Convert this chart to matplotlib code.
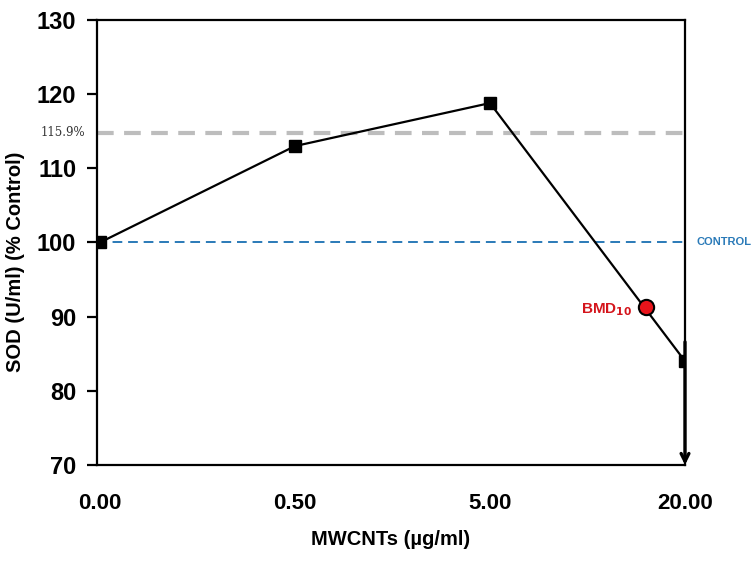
import matplotlib
matplotlib.use("Agg")
import matplotlib.pyplot as plt

# ── Data ──────────────────────────────────────────────────────────────────────
doses      = ["0.00", "0.50", "5.00", "20.00"]      # MWCNTs (µg/ml), categorical
sod_pct    = [100.0, 113.0, 118.8, 84.0]            # SOD (% control)
bmd_pos    = 2.80                                   # BMD10 position on category axis
bmd_value  = 91.3
upper_ref  = 114.8                                  # dashed grey line (labelled 115.9%)
upper_text = "115.9%"
control    = 100.0
y_ticks    = [70, 80, 90, 100, 110, 120, 130]

plt.rcParams["font.family"] = ["Liberation Sans", "DejaVu Sans"]

fig = plt.figure(figsize=(7.53, 5.65), dpi=100)
ax = fig.add_axes([0.1288, 0.177, 0.7809, 0.7876])

x = list(range(len(doses)))

# reference lines
ax.axhline(upper_ref, color="#bdbdbd", lw=3, ls=(0, (4, 2.5)), zorder=1)
ax.axhline(control, color="#2a7ab8", lw=1.4, ls=(0, (5, 3)), zorder=1)

# main series
ax.plot(x, sod_pct, color="black", lw=1.6, marker="s", ms=8.5,
        mfc="black", mec="black", zorder=3)

# arrow below the last point
ax.annotate("", xy=(x[-1], 70), xytext=(x[-1], 86.6),
            arrowprops=dict(arrowstyle="->", lw=2.4, color="black",
                            mutation_scale=14, shrinkA=0, shrinkB=0),
            annotation_clip=False, zorder=4)

# BMD10 marker
ax.plot([bmd_pos], [bmd_value], marker="o", ms=11, mfc="#e8141b",
        mec="black", mew=1.5, zorder=5)
ax.text(bmd_pos - 0.07, bmd_value - 0.4, r"BMD$_\mathbf{10}$", color="#d4151c",
        fontsize=11, fontweight="bold", ha="right", va="center")

# side labels
ax.text(-0.02, upper_ref, upper_text, transform=ax.get_yaxis_transform(),
        fontsize=8.5, family="DejaVu Serif", color="#333333",
        ha="right", va="center")
ax.text(1.02, control, "CONTROL", transform=ax.get_yaxis_transform(),
        fontsize=8, fontweight="bold", color="#2a7ab8", ha="left", va="center")

ax.set_xlim(-0.015, 3.0)
ax.set_ylim(70, 130)
ax.set_yticks(y_ticks)
ax.set_xticks(x)
ax.set_xticklabels(doses)

for s in ax.spines.values():
    s.set_linewidth(1.6)

ax.tick_params(axis="y", direction="out", length=7, width=1.6, pad=8,
               labelsize=17)
ax.tick_params(axis="x", length=0, pad=20, labelsize=16)
for lab in ax.get_xticklabels() + ax.get_yticklabels():
    lab.set_fontweight("bold")

ax.set_xlabel("MWCNTs (µg/ml)", fontsize=14.5, fontweight="bold", labelpad=12)
ax.set_ylabel("SOD (U/ml) (% Control)", fontsize=14.5, fontweight="bold")
ax.yaxis.set_label_coords(-0.122, 0.456)

fig.savefig("out.png", dpi=100)
